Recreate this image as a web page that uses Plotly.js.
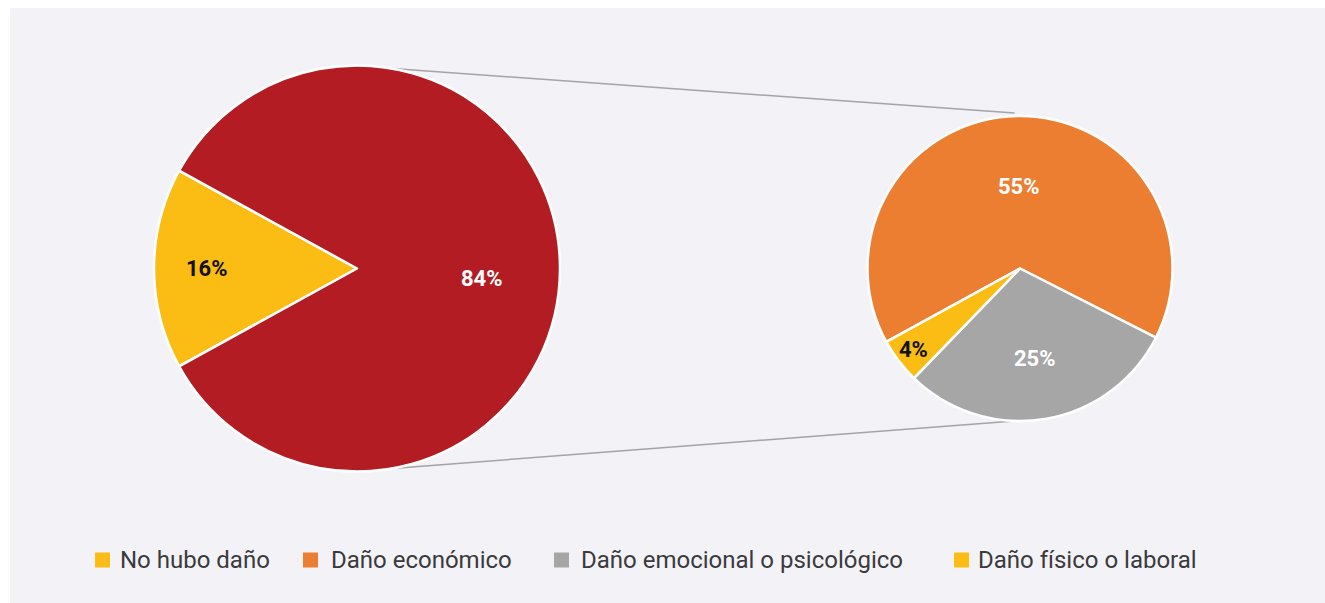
<!DOCTYPE html>
<html>
<head>
<meta charset="utf-8">
<script src="https://cdn.plot.ly/plotly-3.0.1.min.js"></script>
<style>
  html, body { margin: 0; padding: 0; background: #ffffff; }
  #chart { width: 1325px; height: 603px; }
</style>
</head>
<body>
<div id="chart"></div>
<script>
// ---- data ----
const mainLabels = ["No hubo daño", "Hubo daño"];
const mainValues = [16, 84];
const detailLabels = ["Daño económico", "Daño emocional o psicológico", "Daño físico o laboral"];
const detailValues = [55, 25, 4];
const legendLabels = ["No hubo daño", "Daño económico", "Daño emocional o psicológico", "Daño físico o laboral"];

// ---- styles ----
const W = 1325, H = 603;
const YELLOW = "#fbbc14", RED = "#b21c22", ORANGE = "#ec7e31", GRAY = "#a6a6a6";
const mainColors = [YELLOW, RED];
const detailColors = [ORANGE, GRAY, YELLOW];
const legendColors = [YELLOW, ORANGE, GRAY, YELLOW];
const rotation = -118.8;

// pie geometry in pixels
const L = { cx: 357, cy: 268.5, r: 203 };
const R = { cx: 1020, cy: 268.5, r: 152.5 };

const px = x => x / W;
const py = y => 1 - y / H;
function domainOf(p) {
  return { x: [px(p.cx - p.r), px(p.cx + p.r)], y: [py(p.cy + p.r), py(p.cy - p.r)] };
}
// clockwise-from-top angle (deg) to pixel point
function pt(p, ang, frac) {
  const a = ang * Math.PI / 180;
  return [p.cx + p.r * frac * Math.sin(a), p.cy - p.r * frac * Math.cos(a)];
}
function midAngles(values) {
  const tot = values.reduce((s, v) => s + v, 0);
  let cur = rotation; const out = [];
  values.forEach(v => { const span = v / tot * 360; out.push(cur + span / 2); cur += span; });
  return out;
}

const traces = [
  {
    type: "pie", labels: mainLabels, values: mainValues, sort: false,
    direction: "clockwise", rotation: rotation, domain: domainOf(L),
    marker: { colors: mainColors, line: { color: "#ffffff", width: 2.5 } },
    textinfo: "none", showlegend: false, hoverinfo: "label+value"
  },
  {
    type: "pie", labels: detailLabels, values: detailValues, sort: false,
    direction: "clockwise", rotation: rotation, domain: domainOf(R),
    marker: { colors: detailColors, line: { color: "#ffffff", width: 2.5 } },
    textinfo: "none", showlegend: false, hoverinfo: "label+value"
  }
];

const annotations = [];
const labelFont = (c) => ({ family: "Roboto, Arial, sans-serif", size: 22, color: c, weight: "bold" });

// slice labels
const mainMid = midAngles(mainValues);
const mainFrac = [0.74, 0.62];
const mainTextColor = ["#111111", "#ffffff"];
const mainAngAdj = [0, 4.5];
mainValues.forEach((v, i) => {
  const p = pt(L, mainMid[i] + mainAngAdj[i], mainFrac[i]);
  annotations.push({ xref: "paper", yref: "paper", x: px(p[0]), y: py(p[1]), xanchor: "center", yanchor: "middle",
    text: "<b>" + v + "%</b>", showarrow: false, font: labelFont(mainTextColor[i]) });
});
const detMid = midAngles(detailValues);
const detFrac = [0.54, 0.6, 0.88];
const detTextColor = ["#ffffff", "#ffffff", "#111111"];
detailValues.forEach((v, i) => {
  const p = pt(R, detMid[i], detFrac[i]);
  annotations.push({ xref: "paper", yref: "paper", x: px(p[0]), y: py(p[1]), xanchor: "center", yanchor: "middle",
    text: "<b>" + v + "%</b>", showarrow: false, font: labelFont(detTextColor[i]) });
});

// legend (manual)
const legSquareX = [95, 303, 554, 954];
const legTextX = [118, 329, 579, 976];
const legY = 560, sq = 15;
const shapes = [
  { type: "rect", xref: "paper", yref: "paper", x0: px(10), x1: 1, y0: 0, y1: py(8),
    fillcolor: "#f3f2f7", line: { width: 0 }, layer: "below" }
];
// connector lines
const lt = pt(L, 10, 1), lb = pt(L, 170, 1.0);
const rt = pt(R, -2, 1.02), rb = pt(R, 182, 1.0);
[[lt, rt], [lb, rb]].forEach(([a, b]) => {
  shapes.push({ type: "line", xref: "paper", yref: "paper", x0: px(a[0]), y0: py(a[1]), x1: px(b[0]), y1: py(b[1]),
    line: { color: "#a3a3a8", width: 1.5 }, layer: "below" });
});
legendLabels.forEach((lab, i) => {
  shapes.push({ type: "rect", xref: "paper", yref: "paper",
    x0: px(legSquareX[i]), x1: px(legSquareX[i] + sq), y0: py(legY + sq / 2), y1: py(legY - sq / 2),
    fillcolor: legendColors[i], line: { width: 0 } });
  annotations.push({ xref: "paper", yref: "paper", x: px(legTextX[i]), y: py(legY), xanchor: "left", yanchor: "middle",
    text: lab, showarrow: false, font: { family: "Roboto, Arial, sans-serif", size: 24, color: "#3a3a3d" } });
});

const layout = {
  width: W, height: H,
  margin: { l: 0, r: 0, t: 0, b: 0, pad: 0 },
  paper_bgcolor: "#ffffff",
  showlegend: false,
  shapes: shapes,
  annotations: annotations
};

Plotly.newPlot("chart", traces, layout, { displayModeBar: false, staticPlot: true });
</script>
</body>
</html>
